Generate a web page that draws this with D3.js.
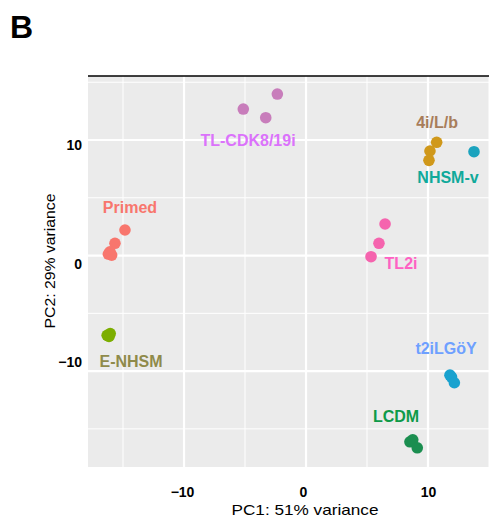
<!DOCTYPE html>
<html>
<head>
<meta charset="utf-8">
<script src="https://cdn.jsdelivr.net/npm/d3@7"></script>
<style>
  body { margin: 0; background: #fff; }
  text { font-family: "Liberation Sans", Arial, Helvetica, sans-serif; }
</style>
</head>
<body>
<div id="chart"></div>
<script>
// groups and colours
const groups = ["Primed", "E-NHSM", "TL-CDK8/19i", "4i/L/b", "NHSM-v", "TL2i", "t2iLGöY", "LCDM"];
const dotColors = ["#F8766D", "#7CAE00", "#C87DBB", "#D0981A", "#1BA3BE", "#F564AE", "#19A2CF", "#1B8E50"];
const labelColors = ["#F8766D", "#8F8A4A", "#DB72FB", "#A87D5A", "#10A99A", "#FF61C3", "#6EA0FF", "#0E9A48"];

// samples: group, PC1, PC2
const sampleGroup = ["Primed", "Primed", "Primed", "Primed", "Primed",
  "E-NHSM", "E-NHSM", "E-NHSM",
  "TL-CDK8/19i", "TL-CDK8/19i", "TL-CDK8/19i",
  "4i/L/b", "4i/L/b", "4i/L/b",
  "NHSM-v",
  "TL2i", "TL2i", "TL2i",
  "t2iLGöY", "t2iLGöY", "t2iLGöY",
  "LCDM", "LCDM", "LCDM"];
const pc1 = [-14.84, -15.66, -16.07, -16.2, -15.93,
  -16.3, -16.05, -16.15,
  -5.14, -3.30, -2.35,
  10.71, 10.16, 10.08,
  13.77,
  6.48, 5.98, 5.33,
  11.8, 11.93, 12.16,
  8.52, 8.75, 9.12];
const pc2 = [2.21, 1.06, 0.33, 0.13, 0.04,
  -6.9, -6.75, -7.0,
  12.68, 11.93, 13.98,
  9.80, 9.05, 8.24,
  8.99,
  2.73, 1.06, -0.10,
  -10.35, -10.52, -11.01,
  -16.12, -15.95, -16.64];

// label anchor positions in data units
const labelX = [-14.43, -14.34, -4.75, 10.74, 11.64, 7.79, 11.48, 7.38];
const labelY = [4.2, -9.13, 10.0, 11.5, 6.76, -0.65, -8.0, -13.87];

const xTicks = [-10, 0, 10];
const yTicks = [-10, 0, 10];

const margin = { top: 76, right: 1, bottom: 52, left: 88 },
  width = 490 - margin.left - margin.right,
  height = 519 - margin.top - margin.bottom;

const svg = d3.select("#chart").append("svg")
  .attr("width", 490)
  .attr("height", 519);

svg.append("text")
  .attr("x", 10)
  .attr("y", 38)
  .style("font-size", "32px")
  .style("font-weight", "bold")
  .text("B");

const g = svg.append("g")
  .attr("transform", "translate(" + margin.left + "," + margin.top + ")");

const x = d3.scaleLinear().domain([-17.87, 15.0]).range([0, width]);
const y = d3.scaleLinear().domain([-18.3, 15.54]).range([height, 0]);

const dotColor = d3.scaleOrdinal().domain(groups).range(dotColors);
const textColor = d3.scaleOrdinal().domain(groups).range(labelColors);

g.append("rect")
  .attr("width", width)
  .attr("height", height)
  .attr("fill", "#EBEBEB");

// minor grid
g.append("g")
  .selectAll("line")
  .data([-15, -5, 5, 15])
  .enter()
  .append("line")
  .attr("x1", (d) => x(d)).attr("x2", (d) => x(d))
  .attr("y1", 0).attr("y2", height)
  .attr("stroke", "#fff").attr("stroke-width", 1);

g.append("g")
  .selectAll("line")
  .data([-15, -5, 5, 15])
  .enter()
  .append("line")
  .attr("y1", (d) => y(d)).attr("y2", (d) => y(d))
  .attr("x1", 0).attr("x2", width)
  .attr("stroke", "#fff").attr("stroke-width", 1);

// major grid
g.append("g")
  .selectAll("line")
  .data(xTicks)
  .enter()
  .append("line")
  .attr("x1", (d) => x(d)).attr("x2", (d) => x(d))
  .attr("y1", 0).attr("y2", height)
  .attr("stroke", "#fff").attr("stroke-width", 2.2);

g.append("g")
  .selectAll("line")
  .data(yTicks)
  .enter()
  .append("line")
  .attr("y1", (d) => y(d)).attr("y2", (d) => y(d))
  .attr("x1", 0).attr("x2", width)
  .attr("stroke", "#fff").attr("stroke-width", 2.2);

// top border line
g.append("line")
  .attr("x1", 0).attr("x2", width)
  .attr("y1", 0).attr("y2", 0)
  .attr("stroke", "#000").attr("stroke-width", 1.5);

// axes
const xAxis = g.append("g")
  .attr("transform", "translate(0," + height + ")")
  .call(d3.axisBottom(x).tickValues(xTicks).tickSize(0).tickPadding(20));
xAxis.select(".domain").remove();
xAxis.selectAll("text")
  .style("font-size", "14px")
  .style("font-weight", "bold")
  .attr("fill", "#000")
  .attr("dx", (d) => (d === 0 ? -3 : d < 0 ? -2 : 0));

const yNudge = { "10": 5, "0": 8, "-10": -9 };
const yAxis = g.append("g")
  .call(d3.axisLeft(y).tickValues(yTicks).tickSize(0).tickPadding(6));
yAxis.select(".domain").remove();
yAxis.selectAll("text")
  .style("font-size", "14px")
  .style("font-weight", "bold")
  .attr("fill", "#000")
  .attr("transform", (d) => "translate(0," + yNudge[d] + ")");

svg.append("text")
  .attr("text-anchor", "middle")
  .attr("x", margin.left + x(0) - 1)
  .attr("y", 515)
  .style("font-size", "15px")
  .attr("textLength", 147)
  .attr("lengthAdjust", "spacingAndGlyphs")
  .text("PC1: 51% variance");

svg.append("text")
  .attr("text-anchor", "middle")
  .attr("transform", "rotate(-90)")
  .attr("x", -261)
  .attr("y", 55)
  .style("font-size", "15px")
  .attr("textLength", 135)
  .attr("lengthAdjust", "spacingAndGlyphs")
  .text("PC2: 29% variance");

// points
g.append("g")
  .selectAll("circle")
  .data(sampleGroup.map((s, i) => ({ group: s, pc1: pc1[i], pc2: pc2[i] })))
  .enter()
  .append("circle")
  .attr("cx", (d) => x(d.pc1))
  .attr("cy", (d) => y(d.pc2))
  .attr("r", 5.8)
  .attr("fill", (d) => dotColor(d.group));

// group labels
g.append("g")
  .selectAll("text")
  .data(groups)
  .enter()
  .append("text")
  .attr("x", (d, i) => x(labelX[i]))
  .attr("y", (d, i) => y(labelY[i]))
  .attr("dy", "0.36em")
  .attr("text-anchor", "middle")
  .style("font-size", "16px")
  .style("font-weight", "bold")
  .attr("fill", (d) => textColor(d))
  .text((d) => d);
</script>
</body>
</html>
